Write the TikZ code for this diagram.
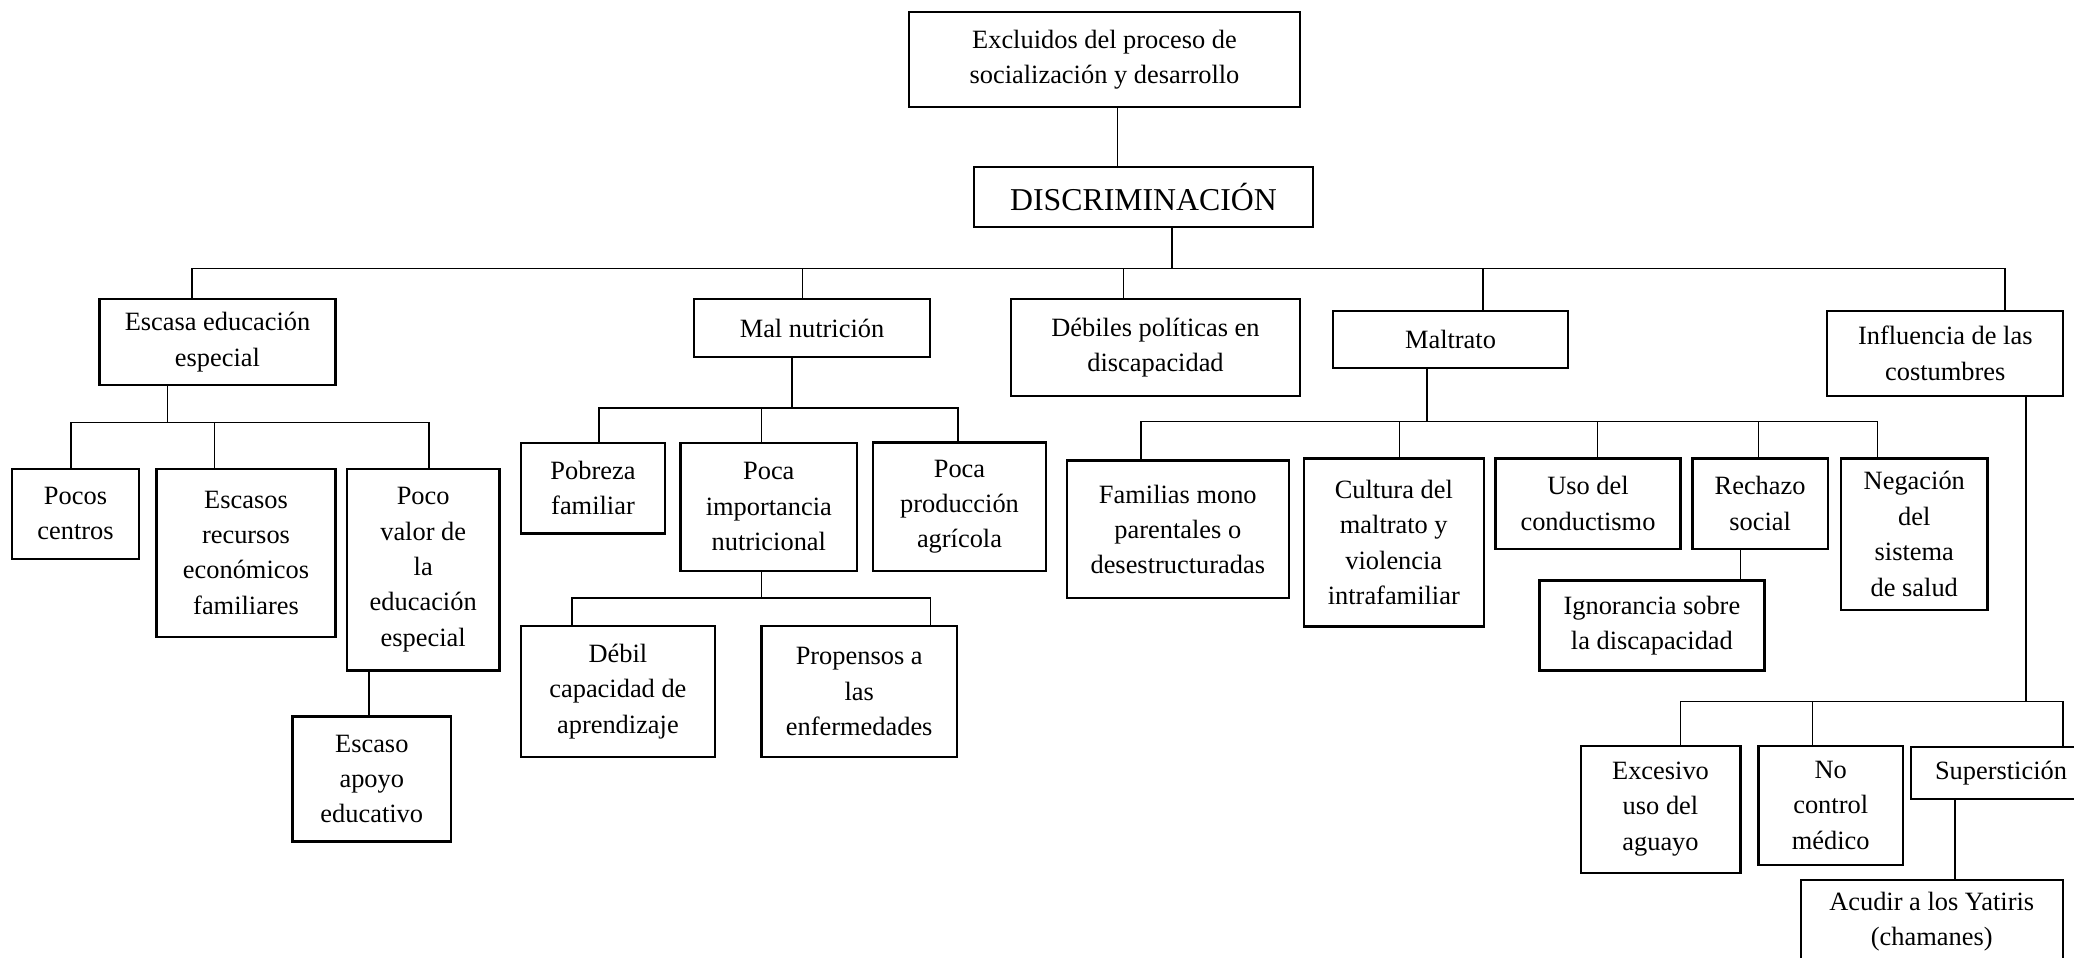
\documentclass[tikz,border=0pt]{standalone}
\usepackage{fontspec}
\setmainfont{Liberation Serif}
\usepackage{tikz}

\tikzset{
    caja/.style={draw, line width=1.1pt, align=center, inner sep=0pt,
        font=\fontsize{13.2}{17.7}\selectfont},
    linea/.style={line width=0.8pt, line cap=rect}
}

\begin{document}
\begin{tikzpicture}[x=0.5pt, y=-0.5pt]

        \useasboundingbox (0,0) rectangle (2074,958);
        \clip (0,0) rectangle (2074,958);

        % upper part
        \node[caja, minimum width=195.5pt, minimum height=47.5pt] (excl) at (1104.5,59.5)
            {Excluidos del proceso de\\socialización y desarrollo};
        \node[caja, minimum width=169.5pt, minimum height=30pt, font=\fontsize{15.9}{19}\selectfont]
            (disc) at (1143.5,197) {DISCRIMINACIÓN};

        \node[caja, minimum width=118pt, minimum height=43pt] (esc) at (217.5,342)
            {Escasa educación\\especial};
        \node[caja, minimum width=117.75pt, minimum height=28.85pt] (mal) at (812,328)
            {Mal nutrición};
        \node[caja, minimum width=144.75pt, minimum height=48.5pt] (deb) at (1155.5,347.5)
            {Débiles políticas en\\discapacidad};
        \node[caja, minimum width=117.5pt, minimum height=28.65pt] (maltr) at (1450.5,339.6)
            {Maltrato};
        \node[caja, minimum width=118pt, minimum height=42.5pt] (infl) at (1945.3,353.2)
            {Influencia de las\\costumbres};

        % escasa educacion
        \node[caja, minimum width=63.2pt, minimum height=45pt] (pocos) at (75.5,513.7)
            {Pocos\\centros};
        \node[caja, minimum width=89.5pt, minimum height=84pt] (escasos) at (246,552.7)
            {Escasos\\recursos\\económicos\\familiares};
        \node[caja, minimum width=76.25pt, minimum height=100.9pt] (pocov) at (423.2,569.6)
            {Poco\\valor de\\la\\educación\\especial};
        \node[caja, minimum width=79.25pt, minimum height=62.5pt] (apoyo) at (371.8,778.9)
            {Escaso\\apoyo\\educativo};

        % mal nutricion
        \node[caja, minimum width=72.3pt, minimum height=45.4pt] (pob) at (593,488.1)
            {Pobreza\\familiar};
        \node[caja, minimum width=88.25pt, minimum height=64pt] (pimp) at (768.8,506.8)
            {Poca\\importancia\\nutricional};
        \node[caja, minimum width=86.2pt, minimum height=64.3pt] (pprod) at (959.5,506.7)
            {Poca\\producción\\agrícola};
        \node[caja, minimum width=97.15pt, minimum height=65.15pt] (debil) at (617.9,691.5)
            {Débil\\capacidad de\\aprendizaje};
        \node[caja, minimum width=97.8pt, minimum height=65.15pt] (prop) at (859.2,691.5)
            {Propensos a\\las\\enfermedades};

        % maltrato
        \node[caja, minimum width=111.2pt, minimum height=68.85pt] (fam) at (1177.8,529.4)
            {Familias mono\\parentales o\\desestructuradas};
        \node[caja, minimum width=90.2pt, minimum height=84pt] (cult) at (1393.8,542.4)
            {Cultura del\\maltrato y\\violencia\\intrafamiliar};
        \node[caja, minimum width=92.55pt, minimum height=45.2pt] (uso) at (1588,503.6)
            {Uso del\\conductismo};
        \node[caja, minimum width=67.6pt, minimum height=45.2pt] (rech) at (1760.1,503.6)
            {Rechazo\\social};
        \node[caja, minimum width=73.25pt, minimum height=75.6pt] (neg) at (1914.3,534)
            {Negación\\del\\sistema\\de salud};
        \node[caja, minimum width=112.5pt, minimum height=45pt] (ign) at (1651.9,625.5)
            {Ignorancia sobre\\la discapacidad};

        % costumbres
        \node[caja, minimum width=79.9pt, minimum height=63.5pt] (exc) at (1660.5,809.1)
            {Excesivo\\uso del\\aguayo};
        \node[caja, minimum width=72.25pt, minimum height=59.6pt] (noc) at (1830.7,805.2)
            {No\\control\\médico};
        \node[caja, minimum width=90pt, minimum height=26.3pt] (sup) at (2001,773)
            {Superstición};
        \node[caja, minimum width=131pt, minimum height=41.5pt] (acu) at (1931.7,921.5)
            {Acudir a los Yatiris\\(chamanes)};

        % connectors
        \coordinate (x-excl) at (1117.3,0);
        \draw[linea] (excl.south -| x-excl) -- (disc.north -| x-excl);

        \coordinate (b-disc) at (1171.7,268.3);
        \draw[linea] (disc.south -| b-disc) -- (b-disc);
        \foreach \n/\x in {esc/191.7, mal/802.5, deb/1123.3, maltr/1483, infl/2005}{
            \coordinate (t-\n) at (\x,268.3);
            \draw[linea] (t-\n) -- (t-\n |- \n.north);
        }
        \draw[linea] (t-esc) -- (t-infl);

        \coordinate (b-esc) at (167.3,422.3);
        \draw[linea] (esc.south -| b-esc) -- (b-esc);
        \foreach \n/\x in {pocos/71, escasos/214.3, pocov/429}{
            \coordinate (t-\n) at (\x,422.3);
            \draw[linea] (t-\n) -- (t-\n |- \n.north);
        }
        \draw[linea] (t-pocos) -- (t-pocov);

        \coordinate (x-pocov) at (368.8,0);
        \draw[linea] (pocov.south -| x-pocov) -- (apoyo.north -| x-pocov);

        \coordinate (b-mal) at (792,407.8);
        \draw[linea] (mal.south -| b-mal) -- (b-mal);
        \foreach \n/\x in {pob/599, pimp/761.4, pprod/957.7}{
            \coordinate (t-\n) at (\x,407.8);
            \draw[linea] (t-\n) -- (t-\n |- \n.north);
        }
        \draw[linea] (t-pob) -- (t-pprod);

        \coordinate (b-pimp) at (761.4,598.2);
        \draw[linea] (pimp.south -| b-pimp) -- (b-pimp);
        \foreach \n/\x in {debil/571.7, prop/930.6}{
            \coordinate (t-\n) at (\x,598.2);
            \draw[linea] (t-\n) -- (t-\n |- \n.north);
        }
        \draw[linea] (t-debil) -- (t-prop);

        \coordinate (b-maltr) at (1426.8,421.4);
        \draw[linea] (maltr.south -| b-maltr) -- (b-maltr);
        \foreach \n/\x in {fam/1141, cult/1399.5, uso/1597.3, rech/1758.4, neg/1877.6}{
            \coordinate (t-\n) at (\x,421.4);
            \draw[linea] (t-\n) -- (t-\n |- \n.north);
        }
        \draw[linea] (t-fam) -- (t-neg);

        \coordinate (x-rech) at (1740.4,0);
        \draw[linea] (rech.south -| x-rech) -- (ign.north -| x-rech);

        \coordinate (b-infl) at (2026,701.5);
        \draw[linea] (infl.south -| b-infl) -- (b-infl);
        \foreach \n/\x in {exc/1680.5, noc/1812.3, sup/2062.7}{
            \coordinate (t-\n) at (\x,701.5);
            \draw[linea] (t-\n) -- (t-\n |- \n.north);
        }
        \draw[linea] (t-exc) -- (t-sup);

        \coordinate (x-sup) at (1955,0);
        \draw[linea] (sup.south -| x-sup) -- (acu.north -| x-sup);

\end{tikzpicture}
\end{document}
